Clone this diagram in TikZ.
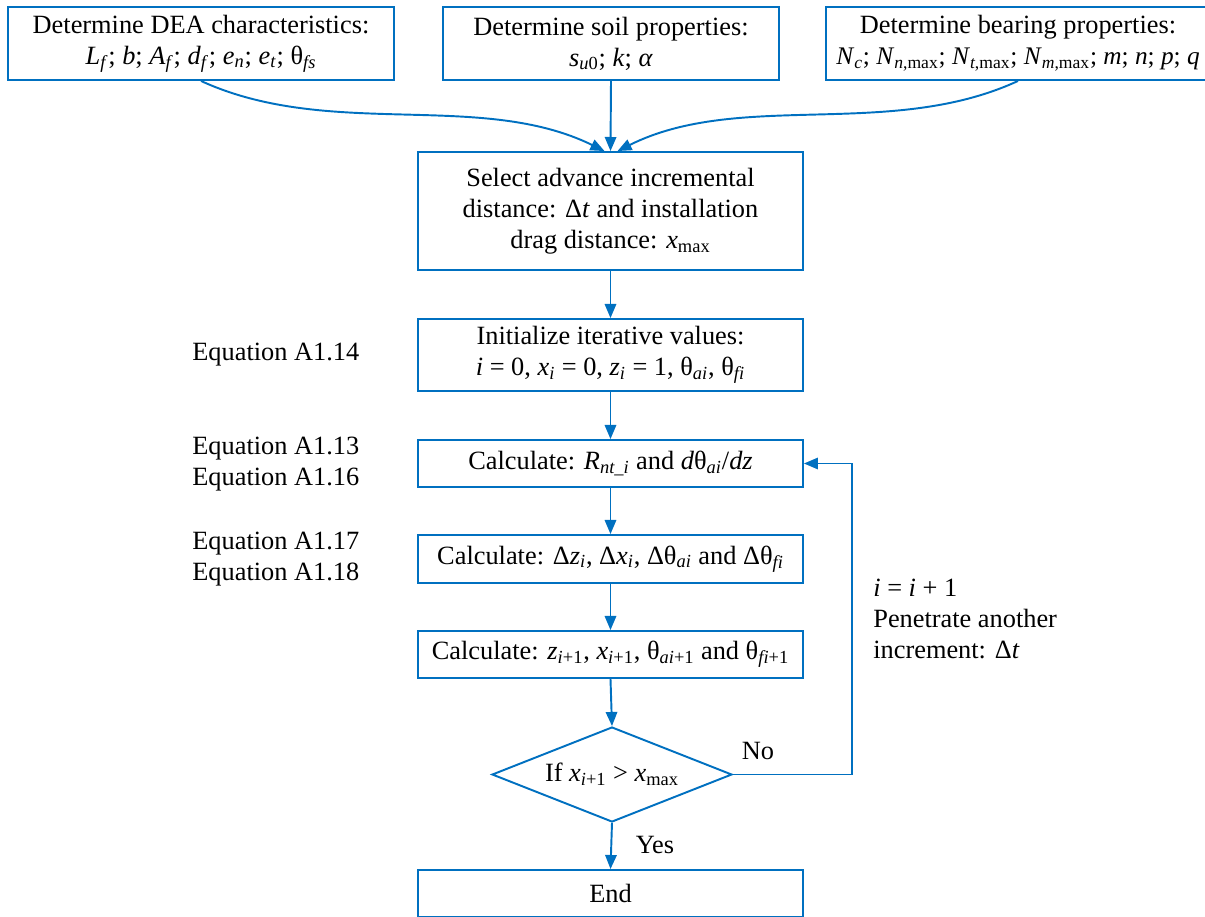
\documentclass[tikz,border=0pt]{standalone}
\usepackage{fontspec}
\setmainfont{Liberation Serif}
\usetikzlibrary{shapes.geometric,arrows.meta}
\definecolor{flowblue}{RGB}{0,112,192}
% italic variable with italic subscript
\newcommand{\vsub}[2]{\textit{#1}\textsubscript{\textit{#2}}}
\newcommand{\thsub}[1]{θ\textsubscript{\textit{#1}}}

\tikzset{
    flowbox/.style={draw=flowblue, line width=1.1pt, align=center, inner sep=0pt},
    flowarr/.style={draw=flowblue, line width=1.1pt, -{Triangle[length=8pt,width=6.5pt]}},
    sidelabel/.style={anchor=west, align=left, inner sep=0pt}
}

\begin{document}
\begin{tikzpicture}[x=0.02cm, y=-0.02cm, font=\fontsize{15}{17.6}\selectfont]
    \clip (0,0) rectangle (1205,917);
    % Input boxes along the top.
        \node[flowbox, minimum width=7.72cm, minimum height=1.46cm] (dea) at (201,43.5)
            {Determine DEA characteristics:\\ \vsub{L}{f}; \textit{b}; \vsub{A}{f}; \vsub{d}{f}; \vsub{e}{n}; \vsub{e}{t}; \thsub{fs}};
        \node[flowbox, minimum width=6.72cm, minimum height=1.46cm] (soil) at (611,43.5)
            {Determine soil properties:\\ \textit{s}\textsubscript{\textit{u}0}; \textit{k}; \textit{α}};
        \node[flowbox, minimum width=7.68cm, minimum height=1.46cm] (bearing) at (1018,43.5)
            {Determine bearing properties:\\ {\fontsize{14.4}{17.6}\selectfont\vsub{N}{c}; \textit{N}\textsubscript{\textit{n},max}; \textit{N}\textsubscript{\textit{t},max}; \textit{N}\textsubscript{\textit{m},max}; \textit{m}; \textit{n}; \textit{p}; \textit{q}}};
    % The main column.
        \node[flowbox, minimum width=7.7cm, minimum height=2.36cm] (select) at (610.5,211)
            {Select advance incremental\\ distance: Δ\textit{t} and installation\\ drag distance: \textit{x}\textsubscript{max}};
        \node[flowbox, minimum width=7.7cm, minimum height=1.44cm] (init) at (610.5,355)
            {Initialize iterative values:\\ \textit{i} = 0, \vsub{x}{i} = 0, \vsub{z}{i} = 1, \thsub{ai}, \thsub{fi}};
        \node[flowbox, minimum width=7.7cm, minimum height=0.94cm] (calcR) at (610.5,463.5)
            {Calculate: \vsub{R}{nt\_i} and \textit{d}\thsub{ai}/\textit{dz}};
        \node[flowbox, minimum width=7.7cm, minimum height=0.96cm] (calcD) at (610.5,559)
            {Calculate: Δ\vsub{z}{i}, Δ\vsub{x}{i}, Δ\thsub{ai} and Δ\thsub{fi}};
        \node[flowbox, minimum width=7.7cm, minimum height=0.94cm] (calcZ) at (610.5,654.5)
            {Calculate: \textit{z}\textsubscript{\textit{i}+1}, \textit{x}\textsubscript{\textit{i}+1}, θ\textsubscript{\textit{ai}+1} and θ\textsubscript{\textit{fi}+1}};
        \node[flowbox, diamond, aspect=2.5, minimum width=4.8cm, minimum height=1.9cm] (cond) at (612,774.5)
            {If \textit{x}\textsubscript{\textit{i}+1} > \textit{x}\textsubscript{max}};
        \node[flowbox, minimum width=7.7cm, minimum height=0.94cm] (finish) at (610.5,893.5) {End};
    % Connectors.
        \draw[flowarr] (dea.south) .. controls (330,140) and (480,90) .. ([xshift=-0.12cm]select.north);
        \draw[flowarr] (soil.south) -- (select.north);
        \draw[flowarr] (bearing.south) .. controls (890,140) and (740,90) .. ([xshift=0.14cm]select.north);
        \draw[flowarr] (select) -- (init);
        \draw[flowarr] (init) -- (calcR);
        \draw[flowarr] (calcR) -- (calcD);
        \draw[flowarr] (calcD) -- (calcZ);
        \draw[flowarr] (calcZ.south) -- (cond.north);
        \draw[flowarr] (cond.south) -- (finish.north);
        \draw[flowarr] (cond.east) -- ++(119,0) |- (calcR.east);
    % Below nodes are the labels.
        \node[] (no) at (758,751) {No};
        \node[] (yes) at (655,845) {Yes};
        \node[sidelabel] (loop) at (873,619) {\textit{i} = \textit{i} + 1\\ Penetrate another\\ increment: Δ\textit{t}};
        \node[sidelabel] (eqinit) at (192,355) {Equation A1.14};
        \node[sidelabel] (eqcalcR) at (192,464) {Equation A1.13\\ Equation A1.16};
        \node[sidelabel] (eqcalcD) at (192,559) {Equation A1.17\\ Equation A1.18};
    \end{tikzpicture}
\end{document}
